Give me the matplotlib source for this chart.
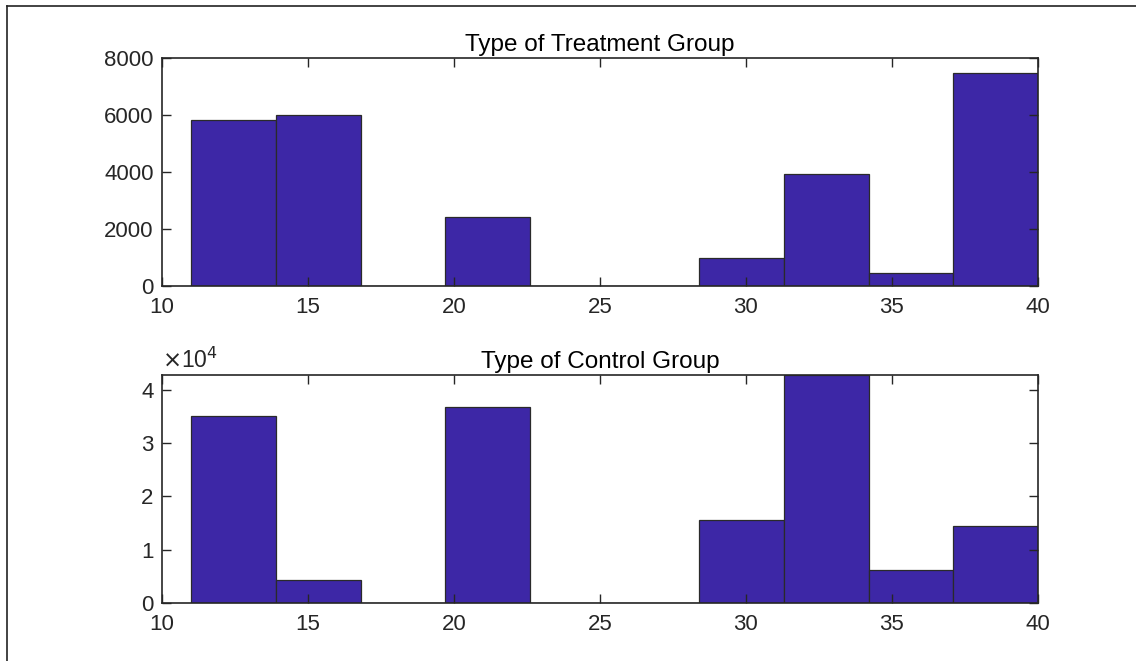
import matplotlib.pyplot as plt
from matplotlib.lines import Line2D

# histogram bins (10 bins from 11 to 40)
bin_edges = [11.0, 13.9, 16.8, 19.7, 22.6, 25.5, 28.4, 31.3, 34.2, 37.1, 40.0]
treatment_counts = [5820, 6000, 0, 2420, 0, 0, 970, 3930, 450, 7470]
control_counts = [35100, 4300, 0, 36800, 0, 0, 15600, 42800, 6200, 14500]

bar_color = '#3D27A6'
edge_color = '#2a2a2a'
text_color = '#262626'

plt.rcParams['font.family'] = ['Liberation Sans', 'DejaVu Sans']


def draw_hist(ax, counts, title, ymax, yticks, yticklabels):
    widths = [bin_edges[i + 1] - bin_edges[i] for i in range(len(counts))]
    ax.bar(bin_edges[:-1], counts, width=widths, align='edge',
           color=bar_color, edgecolor=edge_color, linewidth=0.9)
    ax.set_xlim(10, 40)
    ax.set_ylim(0, ymax)
    ax.set_xticks([10, 15, 20, 25, 30, 35, 40])
    ax.set_yticks(yticks)
    ax.set_yticklabels(yticklabels)
    ax.tick_params(direction='in', top=True, right=True, length=6.5,
                   width=1.0, labelsize=16, colors=text_color, pad=6)
    ax.tick_params(axis='x', pad=8)
    for sp in ax.spines.values():
        sp.set_linewidth(1.2)
        sp.set_color(text_color)
    ax.set_title(title, fontsize=17.5, color='black', pad=5)


fig = plt.figure(figsize=(11.36, 6.61), dpi=100)
ax1 = fig.add_axes([0.1426, 0.5673, 0.7711, 0.3449])
ax2 = fig.add_axes([0.1426, 0.0877, 0.7711, 0.3449])

draw_hist(ax1, treatment_counts, 'Type of Treatment Group', 8000,
          [0, 2000, 4000, 6000, 8000], ['0', '2000', '4000', '6000', '8000'])
draw_hist(ax2, control_counts, 'Type of Control Group', max(control_counts),
          [0, 10000, 20000, 30000, 40000], ['0', '1', '2', '3', '4'])
ax2.text(0.0, 1.01, r'$\times$10$^4$', transform=ax2.transAxes,
         fontsize=16.5, color=text_color, ha='left', va='bottom')

# outer frame (cropped screenshot border)
fig.add_artist(Line2D([7 / 1136, 7 / 1136], [0, 1 - 6 / 661],
                      transform=fig.transFigure, color='#222222', linewidth=1.2))
fig.add_artist(Line2D([7 / 1136, 1], [1 - 6 / 661, 1 - 6 / 661],
                      transform=fig.transFigure, color='#222222', linewidth=1.2))

fig.savefig('out.png', dpi=100)
